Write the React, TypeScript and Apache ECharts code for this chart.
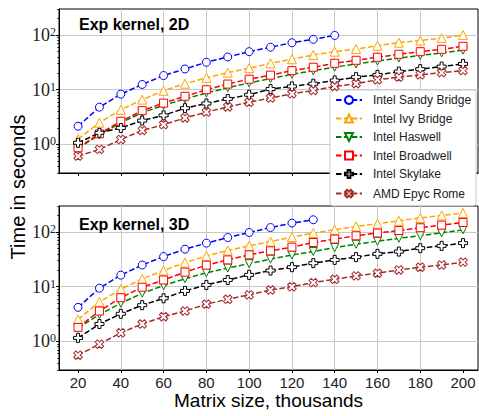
import React, { useEffect, useRef } from "react";
import * as echarts from "echarts";

const X_VALUES = [20, 30, 40, 50, 60, 70, 80, 90, 100, 110, 120, 130, 140, 150, 160, 170, 180, 190, 200];
const X_TICKS = [20, 40, 60, 80, 100, 120, 140, 160, 180, 200];
const SERIES_NAMES = ["Intel Sandy Bridge", "Intel Ivy Bridge", "Intel Haswell", "Intel Broadwell", "Intel Skylake", "AMD Epyc Rome"];
const PANEL_TITLES = ["Exp kernel, 2D", "Exp kernel, 3D"];

// 2D kernel timings (seconds)
const SANDY_2D = [2.15, 4.8, 8.3, 12.5, 18.2, 24, 31.8, 39.8, 49.7, 60, 72.5, 83.6, 98.6];
const IVY_2D = [1.25, 2.5, 4.3, 6.6, 9.6, 12.9, 16.5, 20.6, 24.8, 30.5, 36.1, 43.3, 49.7, 55.6, 63.9, 72.5, 79.6, 88, 100];
const HASWELL_2D = [0.85, 1.5, 2.5, 3.8, 5.2, 6.8, 8.7, 10.9, 13.3, 16, 19.2, 22.2, 26, 29.5, 33.5, 38, 42.5, 47, 53];
const BROADWELL_2D = [0.87, 1.56, 2.65, 4.15, 5.7, 7.6, 10, 12.7, 15.6, 18.5, 22.4, 25.8, 30.5, 34.6, 39.3, 44.6, 49.7, 54.9, 62.3];
const SKYLAKE_2D = [1.07, 1.63, 2.0, 2.73, 3.4, 4.6, 5.6, 6.8, 8.1, 10.3, 11.5, 12.9, 14.8, 17, 18.7, 21.5, 23.8, 26.5, 29.7];
const EPYC_2D = [0.61, 0.81, 1.23, 1.8, 2.3, 3.05, 3.9, 4.85, 5.9, 7.05, 8.45, 9.7, 11.5, 12.9, 15.2, 17, 18.7, 20.6, 22.4];

// 3D kernel timings (seconds)
const SANDY_3D = [4.2, 9.4, 16.3, 25, 35.6, 48.7, 62.8, 79.5, 98.4, 121, 146, 168];
const IVY_3D = [2.53, 5.3, 9.0, 13.9, 19.8, 27.7, 36.7, 46, 56, 67, 81, 96, 110, 127, 142, 161, 181, 202, 223];
const HASWELL_3D = [1.75, 3.1, 5.0, 7.6, 10.5, 14, 18, 22, 26.5, 32, 38, 44, 52, 60, 68, 77, 86, 97, 110];
const BROADWELL_3D = [1.81, 3.6, 6.3, 9.8, 13.3, 18.5, 24.8, 31, 38.3, 45.4, 53, 64.5, 74.5, 85.5, 96, 107, 120, 134, 150];
const SKYLAKE_3D = [1.16, 2.08, 3.2, 4.6, 6.15, 8.4, 10.8, 13.3, 16.5, 19.8, 22.8, 27, 31, 34.8, 40, 44, 50.8, 56, 62.8];
const EPYC_3D = [0.56, 0.89, 1.44, 2.08, 2.83, 3.6, 4.8, 5.9, 7.1, 8.7, 10, 11.9, 13.7, 15.8, 17.7, 20.3, 22.8, 25, 28.2];

const PANELS = [
  [SANDY_2D, IVY_2D, HASWELL_2D, BROADWELL_2D, SKYLAKE_2D, EPYC_2D],
  [SANDY_3D, IVY_3D, HASWELL_3D, BROADWELL_3D, SKYLAKE_3D, EPYC_3D],
];

const Y_MIN = 0.3;
const Y_MAX = 300;
const MINOR_TICKS = [0.3, 0.4, 0.5, 0.6, 0.7, 0.8, 0.9, 2, 3, 4, 5, 6, 7, 8, 9, 20, 30, 40, 50, 60, 70, 80, 90, 200, 300];

const PLUS = "path://M-1,-3L1,-3L1,-1L3,-1L3,1L1,1L1,3L-1,3L-1,1L-3,1L-3,-1L-1,-1Z";
const STYLES = [
  { color: "#0000ff", symbol: "circle", size: 8, rotate: 0 },
  { color: "#ffa500", symbol: "triangle", size: 9, rotate: 0 },
  { color: "#008000", symbol: "triangle", size: 8, rotate: 180 },
  { color: "#ff0000", symbol: "rect", size: 8, rotate: 0 },
  { color: "#000000", symbol: PLUS, size: 9, rotate: 0 },
  { color: "#a52a2a", symbol: PLUS, size: 9, rotate: 45 },
];

const SANS = "Liberation Sans";
const SERIF = "Liberation Serif";

export default function App() {
  const ref = useRef<HTMLDivElement>(null);
  useEffect(() => {
    if (!ref.current) return;
    const chart = echarts.init(ref.current, undefined, { renderer: "svg" });
    const grids = [
      { left: 59, top: 9, right: 1, bottom: 243 },
      { left: 59, top: 206, right: 1, bottom: 46 },
    ];
    const xAxes = grids.map((_, g) => ({
      type: "value",
      gridIndex: g,
      min: 11.1,
      max: 207,
      minInterval: 20,
      maxInterval: 20,
      name: g === 1 ? "Matrix size, thousands" : "",
      nameLocation: "middle",
      nameGap: 18,
      nameTextStyle: { fontFamily: SANS, fontSize: 19, color: "#000" },
      axisLine: { show: true, onZero: false, lineStyle: { color: "#000", width: 1 } },
      axisTick: { show: true, inside: false, length: 3, customValues: X_TICKS, lineStyle: { color: "#000", width: 1 } },
      axisLabel: {
        show: g === 1,
        customValues: X_TICKS,
        margin: 5,
        fontFamily: SANS,
        fontSize: 15,
        color: "#222",
        showMinLabel: true,
        showMaxLabel: true,
      },
      splitLine: { show: true, showMinLine: false, showMaxLine: false, lineStyle: { color: "#c8c8c8", width: 1 } },
    }));
    const yAxesMain = grids.map((_, g) => ({
      type: "log",
      logBase: 10,
      gridIndex: g,
      min: Y_MIN,
      max: Y_MAX,
      axisLine: { show: true, onZero: false, lineStyle: { color: "#000", width: 1 } },
      axisTick: { show: true, length: 3, lineStyle: { color: "#000", width: 1 } },
      axisLabel: {
        show: true,
        margin: 3,
        showMinLabel: false,
        showMaxLabel: false,
        formatter: (v: number) => `{b|10}{s|${Math.round(Math.log10(v))}}`,
        rich: {
          b: { fontFamily: SERIF, fontSize: 18, lineHeight: 18, color: "#222", verticalAlign: "bottom" },
          s: { fontFamily: SERIF, fontSize: 12, lineHeight: 12, color: "#222", verticalAlign: "top" },
        },
      },
      splitLine: { show: true, showMinLine: false, showMaxLine: false, lineStyle: { color: "#c8c8c8", width: 1 } },
    }));
    const yAxesMinor = grids.map((_, g) => ({
      type: "value",
      gridIndex: g,
      position: "left",
      min: Math.log10(Y_MIN),
      max: Math.log10(Y_MAX),
      axisLine: { show: false, onZero: false },
      axisTick: { show: true, length: 1.8, customValues: MINOR_TICKS.map((v) => Math.log10(v)), lineStyle: { color: "#000", width: 0.8 } },
      axisLabel: { show: false },
      splitLine: { show: false },
    }));

    const series: any[] = [];
    PANELS.forEach((panel, g) => {
      panel.forEach((vals, i) => {
        const st = STYLES[i];
        series.push({
          type: "line",
          name: SERIES_NAMES[i],
          xAxisIndex: g,
          yAxisIndex: g,
          data: vals.map((v, k) => [X_VALUES[k], v]),
          symbol: st.symbol,
          symbolSize: st.size,
          symbolRotate: st.rotate,
          showAllSymbol: true,
          color: st.color,
          lineStyle: { color: st.color, width: 1.5, type: [5.5, 2.4] },
          itemStyle: { color: "#fff", borderColor: st.color, borderWidth: 1 },
          emphasis: { disabled: true },
          z: 2 + i,
        });
      });
    });

    chart.setOption({
      animation: false,
      backgroundColor: "#fff",
      title: PANEL_TITLES.map((t, g) => ({
        text: t,
        left: 79,
        top: g === 0 ? 16 : 216,
        padding: 0,
        textStyle: { fontFamily: SANS, fontWeight: "bold", fontSize: 16, color: "#000" },
      })),
      grid: grids.map((gr) => ({ ...gr, show: true, borderColor: "#000", borderWidth: 1, backgroundColor: "transparent" })),
      xAxis: xAxes,
      yAxis: [...yAxesMain, ...yAxesMinor],
      legend: {
        orient: "vertical",
        left: 330,
        top: 90,
        padding: [4, 5, 5, 5],
        itemWidth: 26,
        itemHeight: 10,
        itemGap: 6.5,
        backgroundColor: "#fff",
        borderColor: "#cccccc",
        borderWidth: 1,
        borderRadius: 3,
        textStyle: { fontFamily: SANS, fontSize: 12, color: "#222", padding: [0, 0, 0, 6] },
        data: SERIES_NAMES,
      },
      graphic: [
        {
          type: "text",
          x: 18,
          y: 187,
          rotation: Math.PI / 2,
          style: {
            text: "Time in seconds",
            fontFamily: SANS,
            fontSize: 20,
            fill: "#000",
            textAlign: "center",
            textVerticalAlign: "middle",
          },
        },
      ],
      series,
    });
    return () => chart.dispose();
  }, []);
  return <div ref={ref} style={{ position: "fixed", left: 0, top: 0, width: 479, height: 416 }} />;
}
